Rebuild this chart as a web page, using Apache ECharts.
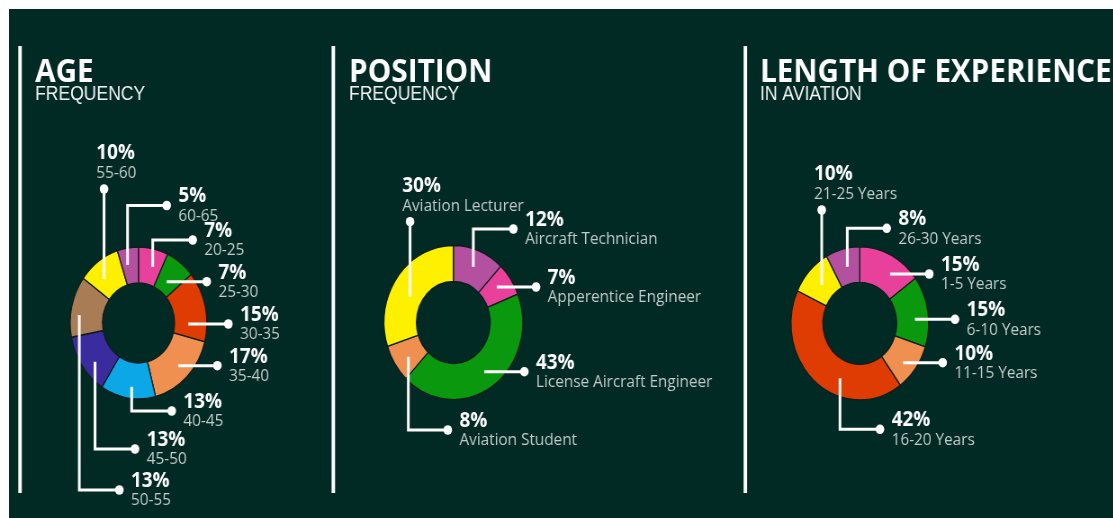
<!DOCTYPE html>
<html>
<head>
<meta charset="utf-8">
<title>Survey frequency</title>
<script src="https://cdn.jsdelivr.net/npm/echarts@6/dist/echarts.min.js"></script>
<style>
  html, body { margin: 0; background: #fff; }
  /* the original picture is squeezed horizontally, so the chart is drawn wider and scaled */
  #main {
    position: absolute; left: 9px; top: 9px;
    width: 1227px; height: 509px;
    transform: scaleX(0.9); transform-origin: 0 0;
  }
</style>
</head>
<body>
<div id="main"></div>
<script>
  // data, clockwise from 12 o'clock
  var ageNames = ['20-25', '25-30', '30-35', '35-40', '40-45', '45-50', '50-55', '55-60', '60-65']
  var ageValues = [7, 7, 15, 17, 13, 13, 13, 10, 5]

  var positionNames = ['Aircraft Technician', 'Apperentice Engineer', 'License Aircraft Engineer', 'Aviation Student', 'Aviation Lecturer']
  var positionValues = [12, 7, 43, 8, 30]

  var expNames = ['1-5 Years', '6-10 Years', '11-15 Years', '16-20 Years', '21-25 Years', '26-30 Years']
  var expValues = [15, 15, 10, 42, 10, 8]

  var ageColors = ['#e8419c', '#0a990e', '#de3c02', '#ef8f50', '#0ba7e6', '#3a2b9f', '#a87c54', '#fff000', '#b3509f']
  var positionColors = ['#b3509f', '#e8419c', '#0a990e', '#ef8f50', '#fff000']
  var expColors = ['#e8419c', '#0a990e', '#ef8f50', '#de3c02', '#fff000', '#b3509f']

  // callouts: start point inside the ring, dot at the end (offsets from pie centre), label side
  var ageCallouts = [
    [15.8, -56, 60.2, -83, 'right'],
    [31.3, -41.3, 75.8, -41.3, 'right'],
    [55.3, 1, 99.8, 1, 'right'],
    [44.2, 42.7, 87.6, 42.7, 'right'],
    [-7.6, 63.7, 36.9, 88, 'right'],
    [-48.3, 38.7, -3.9, 126, 'right'],
    [-65.8, -8, -21.3, 167, 'right'],
    [-38.3, -44, -38.3, -134, 'top'],
    [-12.2, -58, 31.3, -117.5, 'right']
  ]
  var positionCallouts = [
    [22.2, -55.8, 66.7, -93.5, 'right'],
    [48.2, -35.5, 91.9, -35.5, 'right'],
    [34.4, 49.2, 78.9, 49.2, 'right'],
    [-50, 34.2, -6.2, 107.5, 'right'],
    [-48.1, -25.8, -48.1, -100.8, 'top']
  ]
  var expCallouts = [
    [33.6, -49.3, 77.2, -49.3, 'right'],
    [61.3, -4, 105.8, -4, 'right'],
    [48.3, 39.4, 92.1, 39.4, 'right'],
    [-22, 55, 22.4, 106, 'right'],
    [-42.3, -38.3, -42.3, -113.3, 'top'],
    [-13.9, -56.6, 29.9, -95, 'right']
  ]

  var bg = '#022a25'
  var myChart = echarts.init(document.getElementById('main'))

  function toData(names, values) {
    return names.map(function (n, i) {
      return { name: n, value: values[i] }
    })
  }

  function calloutLayout(center, callouts) {
    return function (p) {
      var c = callouts[p.dataIndex]
      var ex = center[0] + c[2], ey = center[1] + c[3]
      if (c[4] === 'top') {
        return { x: ex - 8.5, y: ey - 7, align: 'left', verticalAlign: 'bottom' }
      }
      return { x: ex + 13, y: ey, align: 'left', verticalAlign: 'middle' }
    }
  }

  function donut(center, radius, names, values, colors, callouts) {
    return {
      type: 'pie',
      center: center,
      radius: radius,
      startAngle: 90,
      avoidLabelOverlap: false,
      color: colors,
      data: toData(names, values),
      itemStyle: { borderColor: '#0d1f1b', borderWidth: 1.3 },
      emphasis: { disabled: true },
      label: {
        show: true,
        position: 'outside',
        formatter: '{p|{c}%}\n{n|{b}}',
        rich: {
          p: { fontFamily: 'Open Sans', fontWeight: 'bold', fontSize: 21, lineHeight: 21, color: '#ffffff' },
          n: { fontFamily: 'Open Sans', fontSize: 17, lineHeight: 18, color: '#c3ccc8' }
        }
      },
      labelLine: { show: false },
      labelLayout: calloutLayout(center, callouts)
    }
  }

  // leader lines (over the ring) and end dots
  function leaders(center, callouts) {
    var out = []
    callouts.forEach(function (c) {
      var sx = center[0] + c[0], sy = center[1] + c[1]
      var ex = center[0] + c[2], ey = center[1] + c[3]
      out.push({
        type: 'polyline',
        z: 100,
        shape: { points: [[sx, sy], [sx, ey], [ex, ey]] },
        style: { stroke: '#ffffff', lineWidth: 3, fill: null }
      })
      out.push({
        type: 'circle',
        z: 101,
        shape: { cx: ex, cy: ey, r: 4.8 },
        style: { fill: '#ffffff' }
      })
    })
    return out
  }

  function divider(x) {
    return { type: 'rect', z: 100, shape: { x: x, y: 37, width: 3.9, height: 447 }, style: { fill: '#ffffff' } }
  }

  var ageCenter = [143.9, 314]
  var positionCenter = [493.7, 313.5]
  var expCenter = [945.3, 314.3]

  function heading(text, sub, left) {
    return {
      text: text,
      subtext: sub,
      left: left,
      top: 47,
      padding: 0,
      itemGap: -4.5,
      textStyle: { fontFamily: 'Open Sans', fontWeight: 'bold', fontSize: 33, lineHeight: 33, color: '#ffffff' },
      subtextStyle: { fontFamily: 'Liberation Sans', fontSize: 19.5, lineHeight: 20, color: '#eef2f0' }
    }
  }

  var option = {
    backgroundColor: bg,
    animation: false,
    title: [
      heading('AGE', 'FREQUENCY', 28.9),
      heading('POSITION', 'FREQUENCY', 377.8),
      heading('LENGTH OF EXPERIENCE', 'IN AVIATION', 834.4)
    ],
    graphic: [divider(10.3), divider(358.4), divider(816.2)]
      .concat(leaders(ageCenter, ageCallouts))
      .concat(leaders(positionCenter, positionCallouts))
      .concat(leaders(expCenter, expCallouts)),
    series: [
      donut(ageCenter, [40, 76], ageNames, ageValues, ageColors, ageCallouts),
      donut(positionCenter, [41, 77], positionNames, positionValues, positionColors, positionCallouts),
      donut(expCenter, [41, 76.5], expNames, expValues, expColors, expCallouts)
    ]
  }

  myChart.setOption(option)
  window.addEventListener('resize', function () {
    myChart.resize()
  })
</script>
</body>
</html>
